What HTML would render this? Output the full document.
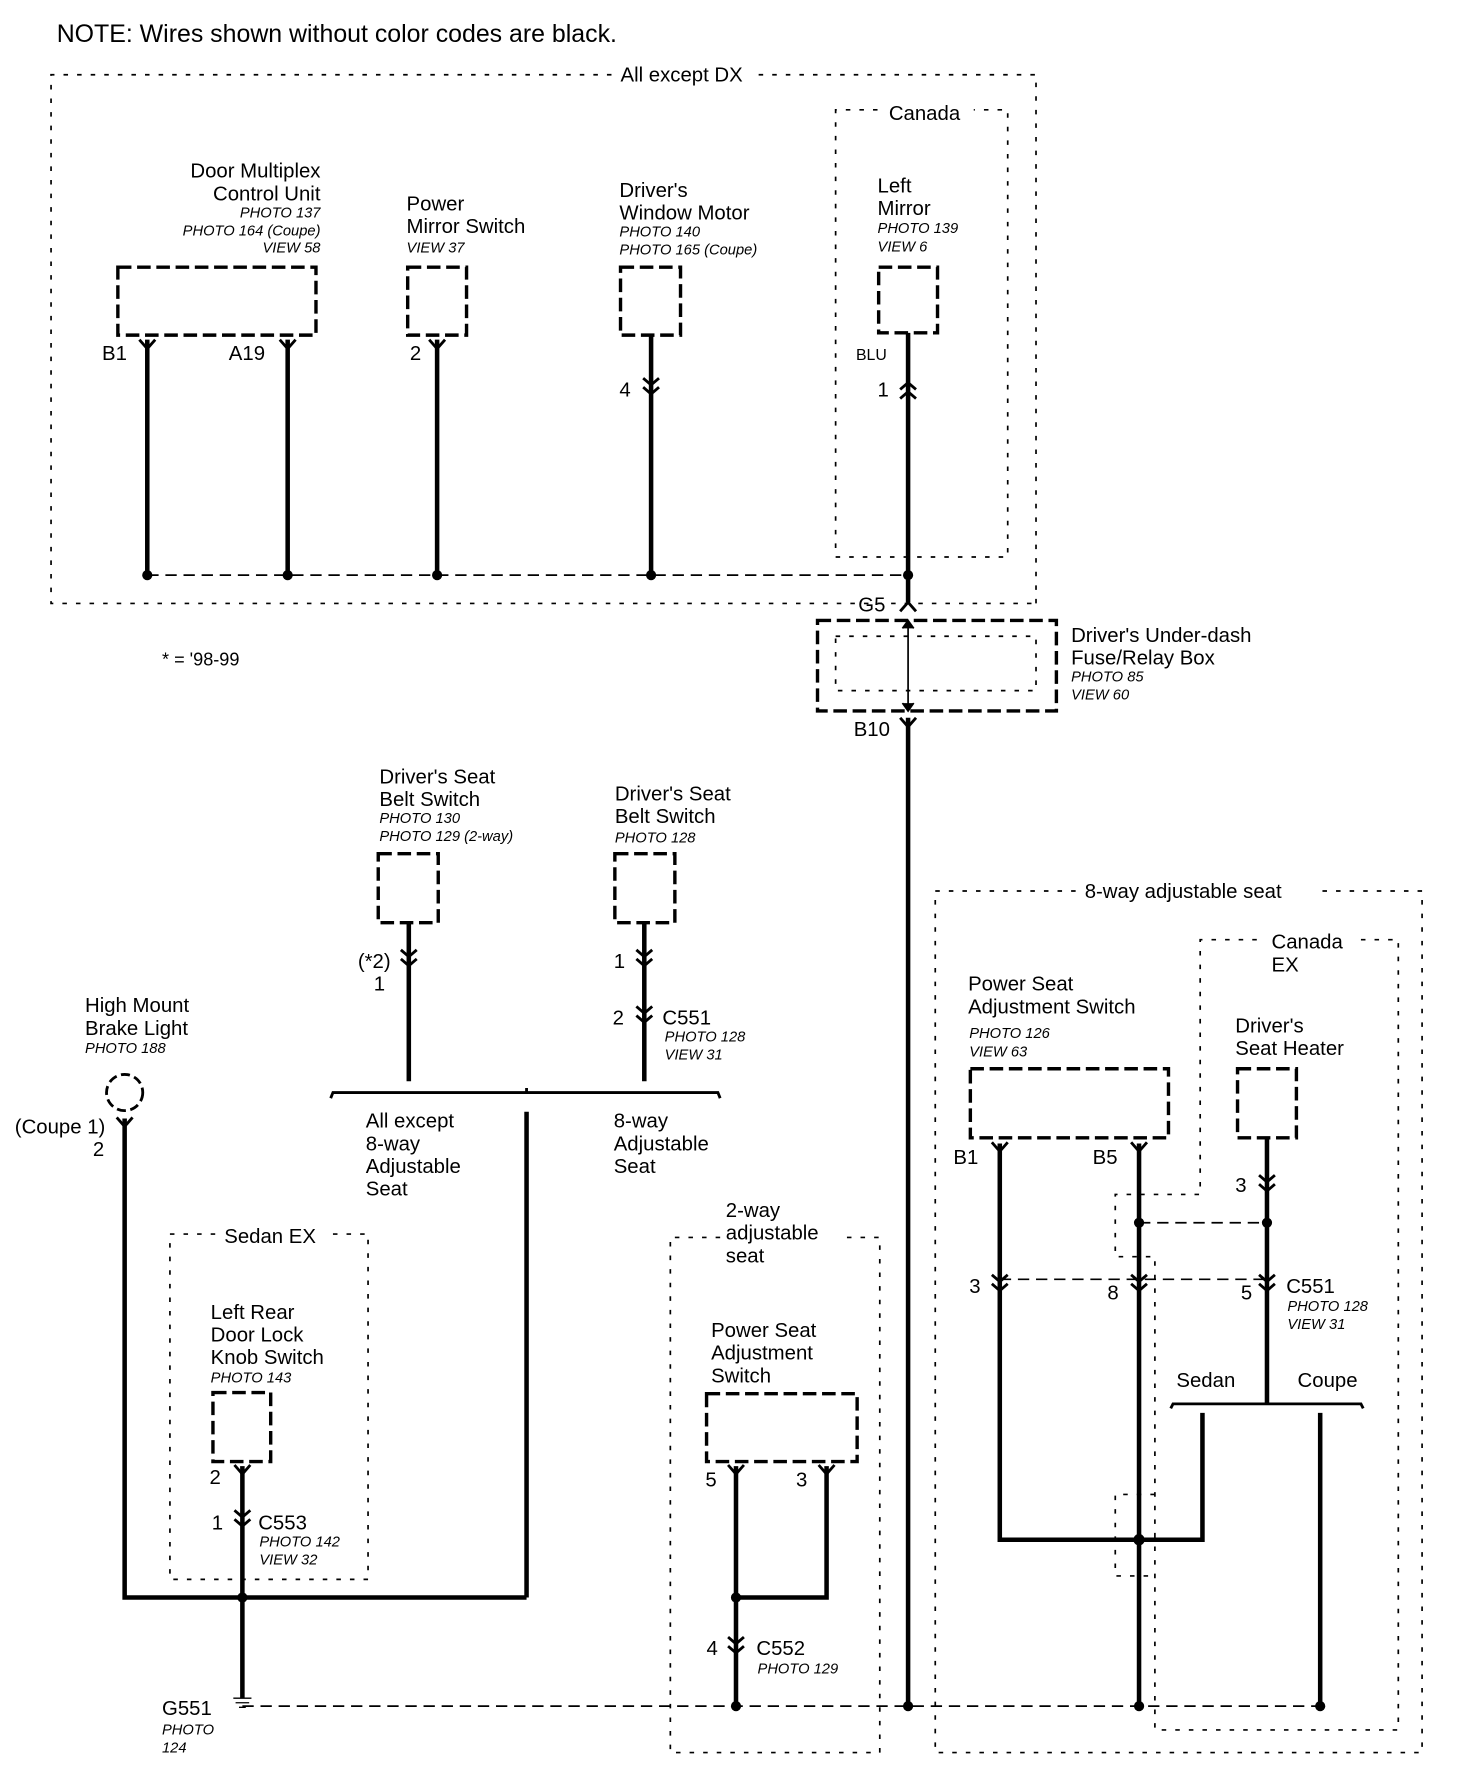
<!DOCTYPE html>
<html><head><style>
html,body{margin:0;padding:0;background:#fff}
svg{display:block}
text{font-family:"Liberation Sans",Arial,sans-serif;fill:#000}
.t{font-size:18px}
.i{font-size:13px;font-style:italic}
.w{stroke:#000;stroke-width:4;fill:none}
.d{stroke:#000;stroke-width:1.5;fill:none;stroke-dasharray:4 8}
.g{stroke:#000;stroke-width:1.5;fill:none;stroke-dasharray:10 6}
.b{stroke:#000;stroke-width:3;fill:none;stroke-dasharray:12 5}
.c{stroke:#000;stroke-width:2.5;fill:none}
</style></head><body>
<svg width="1472" height="1782" viewBox="0 0 1300 1574" xmlns="http://www.w3.org/2000/svg">
<defs>
<g id="y"><path class="c" d="M-7,-8 L0,0 L7,-8"/></g>
<g id="dc"><path class="c" d="M-7,-9 L0,-3 L7,-9 M-7,-1 L0,5 L7,-1"/></g>
<g id="uc"><path class="c" d="M-7,9 L0,3 L7,9 M-7,1 L0,-5 L7,1"/></g>
</defs>
<text x="50" y="37" style="font-size:22px">NOTE: Wires shown without color codes are black.</text>

<path class="d" d="M540,66 L45,66 L45,533 L915,533 M670,66 L915,66 L915,533"/>
<text class="t" x="548" y="72">All except DX</text>
<path class="d" d="M775,97 L738,97 L738,492 L890,492 L890,97 L860,97"/>
<text class="t" x="785" y="106">Canada</text>

<text class="t" x="283" y="157" text-anchor="end">Door Multiplex</text>
<text class="t" x="283" y="177" text-anchor="end">Control Unit</text>
<text class="i" x="283" y="192" text-anchor="end">PHOTO 137</text>
<text class="i" x="283" y="208" text-anchor="end">PHOTO 164 (Coupe)</text>
<text class="i" x="283" y="223" text-anchor="end">VIEW 58</text>
<rect class="b" x="104" y="236" width="175" height="60"/>
<text class="t" x="90" y="318">B1</text><text class="t" x="202" y="318">A19</text>
<use href="#y" x="130" y="308"/><use href="#y" x="254" y="308"/>
<path class="w" d="M130,300 V508 M254,300 V508"/>

<text class="t" x="359" y="186">Power</text>
<text class="t" x="359" y="206">Mirror Switch</text>
<text class="i" x="359" y="223">VIEW 37</text>
<rect class="b" x="360" y="236" width="52" height="60"/>
<text class="t" x="362" y="318">2</text><use href="#y" x="386" y="308"/>
<path class="w" d="M386,300 V508"/>

<text class="t" x="547" y="174">Driver's</text>
<text class="t" x="547" y="194">Window Motor</text>
<text class="i" x="547" y="209">PHOTO 140</text>
<text class="i" x="547" y="225">PHOTO 165 (Coupe)</text>
<rect class="b" x="548" y="236" width="53" height="60"/>
<path class="w" d="M575,296 V508"/><use href="#dc" x="575" y="343"/>
<text class="t" x="547" y="350">4</text>

<text class="t" x="775" y="170">Left</text>
<text class="t" x="775" y="190">Mirror</text>
<text class="i" x="775" y="206">PHOTO 139</text>
<text class="i" x="775" y="222">VIEW 6</text>
<rect class="b" x="776" y="236" width="52" height="58"/>
<path class="w" d="M802,294 V508"/><use href="#uc" x="802" y="343"/>
<text x="756" y="318" style="font-size:14px">BLU</text>
<text class="t" x="775" y="350">1</text>

<path class="g" d="M130,508 H802"/>
<g fill="#000"><circle cx="130" cy="508" r="4.5"/><circle cx="254" cy="508" r="4.5"/><circle cx="386" cy="508" r="4.5"/><circle cx="575" cy="508" r="4.5"/><circle cx="802" cy="508" r="4.5"/></g>

<path class="w" d="M802,512 V532"/>
<path class="c" d="M795,540 L802,532 L809,540"/>
<text class="t" x="758" y="540">G5</text>
<rect class="b" x="722" y="548" width="211" height="80"/>
<rect class="d" x="738" y="562" width="177" height="48"/>
<path stroke="#000" stroke-width="1.5" d="M802,548 V628 M797,555 L802,548 L807,555 M797,621 L802,628 L807,621"/>
<text class="t" x="946" y="567">Driver's Under-dash</text>
<text class="t" x="946" y="587">Fuse/Relay Box</text>
<text class="i" x="946" y="602">PHOTO 85</text>
<text class="i" x="946" y="618">VIEW 60</text>
<text class="t" x="754" y="650">B10</text><use href="#y" x="802" y="642"/>
<path class="w" d="M802,634 V1507"/>

<text x="143" y="588" style="font-size:16px">* = '98-99</text>

<text class="t" x="335" y="692">Driver's Seat</text>
<text class="t" x="335" y="712">Belt Switch</text>
<text class="i" x="335" y="727">PHOTO 130</text>
<text class="i" x="335" y="743">PHOTO 129 (2-way)</text>
<rect class="b" x="334" y="754" width="53" height="61"/>
<path class="w" d="M361,815 V955"/><use href="#dc" x="361" y="848"/>
<text class="t" x="316" y="855">(*2)</text><text class="t" x="330" y="875">1</text>

<text class="t" x="543" y="707">Driver's Seat</text>
<text class="t" x="543" y="727">Belt Switch</text>
<text class="i" x="543" y="744">PHOTO 128</text>
<rect class="b" x="543" y="754" width="53" height="61"/>
<path class="w" d="M569,815 V955"/><use href="#dc" x="569" y="848"/><use href="#dc" x="569" y="898"/>
<text class="t" x="542" y="855">1</text><text class="t" x="541" y="905">2</text>
<text class="t" x="585" y="905">C551</text>
<text class="i" x="587" y="920">PHOTO 128</text>
<text class="i" x="587" y="936">VIEW 31</text>

<path stroke="#000" stroke-width="2.5" fill="none" d="M292,970 L294,965 H634 L636,970 M465,965 V961"/>
<path class="w" d="M465,982 V1411"/>
<text class="t" x="323" y="996">All except</text><text class="t" x="323" y="1016">8-way</text><text class="t" x="323" y="1036">Adjustable</text><text class="t" x="323" y="1056">Seat</text>
<text class="t" x="542" y="996">8-way</text><text class="t" x="542" y="1016">Adjustable</text><text class="t" x="542" y="1036">Seat</text>

<text class="t" x="75" y="894">High Mount</text>
<text class="t" x="75" y="914">Brake Light</text>
<text class="i" x="75" y="930">PHOTO 188</text>
<circle cx="110" cy="965" r="16" fill="none" stroke="#000" stroke-width="2.5" stroke-dasharray="8 4"/>
<use href="#y" x="110" y="995"/>
<text class="t" x="13" y="1001">(Coupe 1)</text><text class="t" x="82" y="1021">2</text>
<path class="w" d="M110,988 V1411 H465"/>

<path class="d" d="M190,1090 L150,1090 L150,1395 L325,1395 L325,1090 L290,1090"/>
<text class="t" x="198" y="1098">Sedan EX</text>
<text class="t" x="186" y="1165">Left Rear</text>
<text class="t" x="186" y="1185">Door Lock</text>
<text class="t" x="186" y="1205">Knob Switch</text>
<text class="i" x="186" y="1221">PHOTO 143</text>
<rect class="b" x="188" y="1230" width="51" height="61"/>
<use href="#y" x="214" y="1302"/><text class="t" x="185" y="1311">2</text>
<path class="w" d="M214,1295 V1500"/><use href="#dc" x="214" y="1343"/>
<text class="t" x="187" y="1351">1</text><text class="t" x="228" y="1351">C553</text>
<text class="i" x="229" y="1366">PHOTO 142</text><text class="i" x="229" y="1382">VIEW 32</text>
<path stroke="#000" stroke-width="1.2" d="M206,1500 H222 M208,1504 H220 M211,1508 H217"/>
<text class="t" x="143" y="1515">G551</text>
<text class="i" x="143" y="1532">PHOTO</text><text class="i" x="143" y="1548">124</text>

<path class="g" d="M214,1507 H1166"/>

<path class="d" d="M636,1093 L592,1093 L592,1548 L777,1548 L777,1093 L740,1093"/>
<text class="t" x="641" y="1075">2-way</text><text class="t" x="641" y="1095">adjustable</text><text class="t" x="641" y="1115">seat</text>
<text class="t" x="628" y="1181">Power Seat</text><text class="t" x="628" y="1201">Adjustment</text><text class="t" x="628" y="1221">Switch</text>
<rect class="b" x="624" y="1231" width="133" height="60"/>
<use href="#y" x="650" y="1302"/><use href="#y" x="730" y="1302"/>
<text class="t" x="623" y="1313">5</text><text class="t" x="703" y="1313">3</text>
<path class="w" d="M650,1295 V1507 M730,1295 V1411 H650"/>
<use href="#dc" x="650" y="1455"/>
<text class="t" x="624" y="1462">4</text><text class="t" x="668" y="1462">C552</text>
<text class="i" x="669" y="1478">PHOTO 129</text>

<path class="d" d="M950,787 L826,787 L826,1548 L1256,1548 L1256,787 L1160,787"/>
<text class="t" x="958" y="793">8-way adjustable seat</text>
<path class="d" d="M1110,830 L1060,830 L1060,1055 L985,1055 L985,1110 L1020,1110 L1020,1528 L1235,1528 L1235,830 L1200,830"/>
<path class="d" d="M1020,1320 L985,1320 L985,1392 L1020,1392"/>
<text class="t" x="1123" y="838">Canada</text><text class="t" x="1123" y="858">EX</text>

<text class="t" x="855" y="875">Power Seat</text>
<text class="t" x="855" y="895">Adjustment Switch</text>
<text class="i" x="856" y="917">PHOTO 126</text>
<text class="i" x="856" y="933">VIEW 63</text>
<rect class="b" x="857" y="944" width="175" height="61"/>
<use href="#y" x="883" y="1017"/><use href="#y" x="1006" y="1017"/>
<text class="t" x="842" y="1028">B1</text><text class="t" x="965" y="1028">B5</text>

<text class="t" x="1091" y="912">Driver's</text><text class="t" x="1091" y="932">Seat Heater</text>
<rect class="b" x="1093" y="944" width="52" height="61"/>
<path class="w" d="M1119,1005 V1240"/><use href="#dc" x="1119" y="1047"/>
<text class="t" x="1091" y="1053">3</text>

<path class="w" d="M883,1010 V1360 H1062 V1248 M1006,1010 V1507 M1166,1248 V1507"/>
<path class="g" d="M1006,1080 H1119 M883,1130 H1119"/>
<use href="#dc" x="883" y="1135"/><use href="#dc" x="1006" y="1135"/><use href="#dc" x="1119" y="1135"/>
<text class="t" x="856" y="1142">3</text><text class="t" x="978" y="1148">8</text><text class="t" x="1096" y="1148">5</text>
<text class="t" x="1136" y="1142">C551</text>
<text class="i" x="1137" y="1158">PHOTO 128</text><text class="i" x="1137" y="1174">VIEW 31</text>
<text class="t" x="1039" y="1225">Sedan</text><text class="t" x="1146" y="1225">Coupe</text>
<path stroke="#000" stroke-width="2.5" fill="none" d="M1034,1244 L1036,1240 H1202 L1204,1244"/>

<g fill="#000">
<circle cx="1006" cy="1080" r="4.5"/><circle cx="1119" cy="1080" r="4.5"/>
<circle cx="1006" cy="1360" r="5"/>
<circle cx="214" cy="1411" r="4.5"/><circle cx="650" cy="1411" r="4.5"/>
<circle cx="650" cy="1507" r="4.5"/><circle cx="802" cy="1507" r="4.5"/><circle cx="1006" cy="1507" r="4.5"/><circle cx="1166" cy="1507" r="4.5"/>
</g>
</svg>
</body></html>
